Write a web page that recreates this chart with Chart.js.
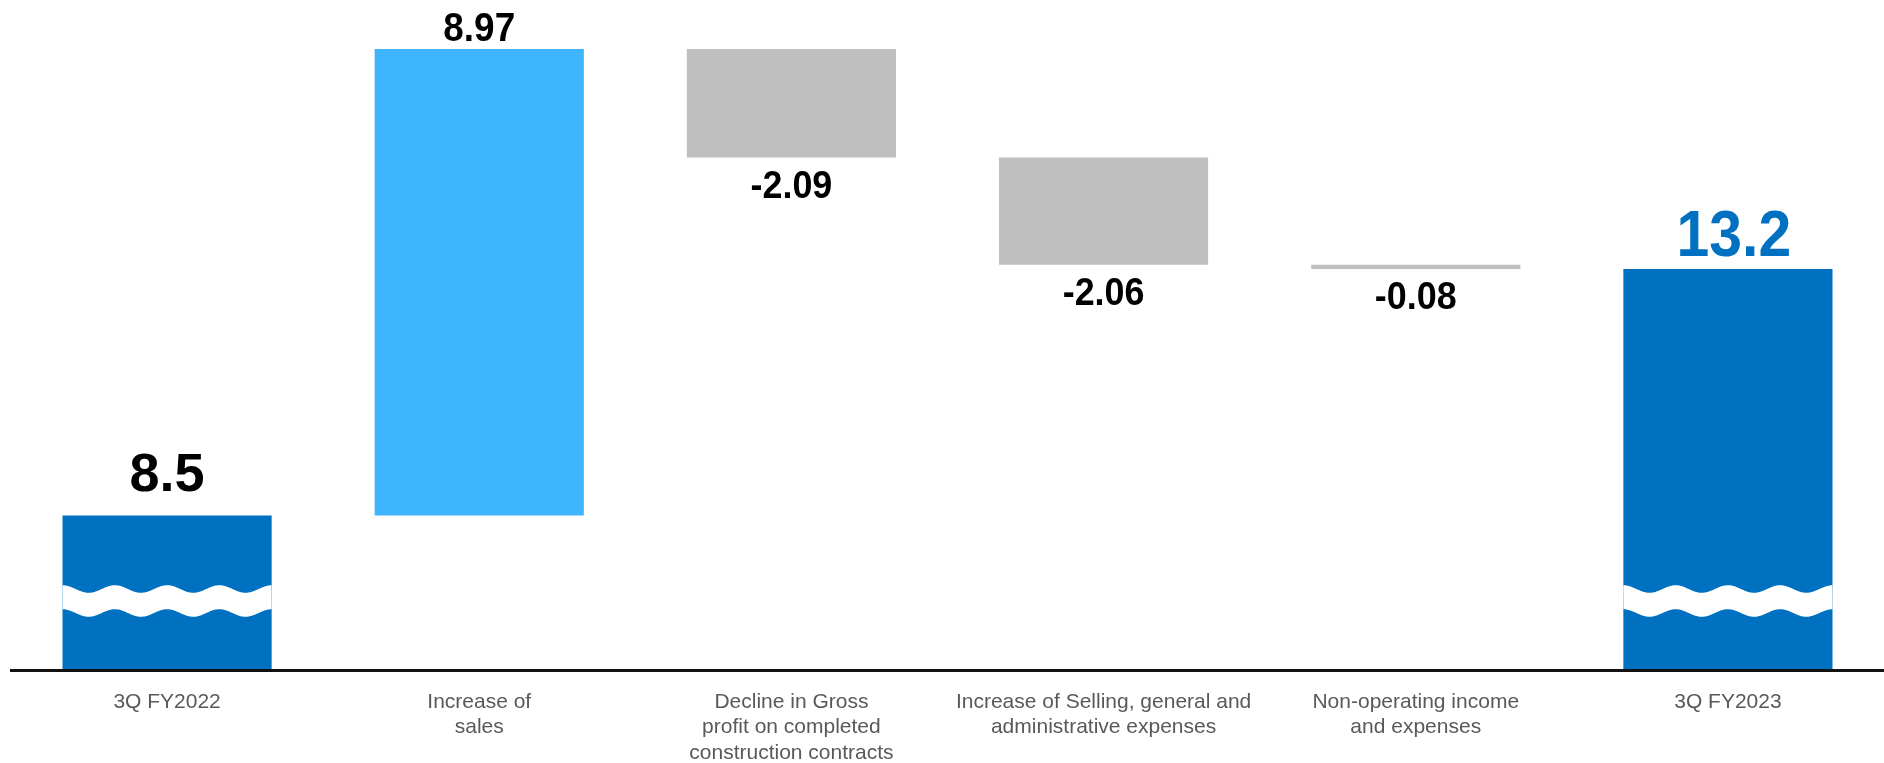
<!DOCTYPE html>
<html>
<head>
<meta charset="utf-8">
<script src="https://cdn.jsdelivr.net/npm/chart.js@4.4.0/dist/chart.umd.min.js"></script>
<style>
html,body{margin:0;padding:0;background:#fff;}
#wrap{width:1884px;height:763px;position:relative;}
</style>
</head>
<body>
<div id="wrap"><canvas id="c"></canvas></div>
<script>
// ---- data ----
const categories = [
  ["3Q FY2022"],
  ["Increase of", "sales"],
  ["Decline in Gross", "profit on completed", "construction contracts"],
  ["Increase of Selling, general and", "administrative expenses"],
  ["Non-operating income", "and expenses"],
  ["3Q FY2023"]
];
const startValue = 8.5;
const changeValues = [8.97, -2.09, -2.06, -0.08];
const valueLabels = ["8.5", "8.97", "-2.09", "-2.06", "-0.08", "13.2"];
const axisBase = 5.53;   // value at the (broken) axis line
const axisMax = 18.41;

// ---- build floating ranges ----
const ranges = [[axisBase, startValue]];
let running = startValue;
changeValues.forEach(v => { ranges.push([running, running + v]); running += v; });
ranges.push([axisBase, running]);
const signs = [1].concat(changeValues.map(v => Math.sign(v))).concat([1]);

// ---- styles ----
const barColors = ['#0070C0', '#3FB4FF', '#BFBFBF', '#BFBFBF', '#BFBFBF', '#0070C0'];
const labelStyle = [
  {size: 54, gap: 25, color: '#000000', sx: 1.0, dx: 0},
  {size: 41, gap: 8,  color: '#000000', sx: 0.9, dx: 0},
  {size: 39, gap: 12, color: '#000000', sx: 0.92, dx: 0},
  {size: 39, gap: 12, color: '#000000', sx: 0.92, dx: 0},
  {size: 39, gap: 12, color: '#000000', sx: 0.92, dx: 0},
  {size: 64, gap: 13, color: '#0070C0', sx: 0.92, dx: 6}
];
const brokenBars = [0, 5];
const breakOffsetPx = 69;

const labelPlugin = {
  id: 'valueLabels',
  afterDatasetsDraw(chart) {
    const ctx = chart.ctx;
    const meta = chart.getDatasetMeta(0);
    meta.data.forEach((el, i) => {
      const st = labelStyle[i];
      const top = Math.min(el.y, el.base);
      const bottom = Math.max(el.y, el.base);
      ctx.save();
      ctx.font = 'bold ' + st.size + 'px "Liberation Sans", Arial, sans-serif';
      ctx.fillStyle = st.color;
      ctx.textAlign = 'center';
      ctx.textBaseline = 'alphabetic';
      let baseline;
      if (signs[i] >= 0) baseline = top - st.gap;
      else baseline = bottom + st.gap + st.size * 0.716;
      ctx.translate(el.x + st.dx, baseline);
      ctx.scale(st.sx, 1);
      ctx.fillText(valueLabels[i], 0, 0);
      ctx.restore();
    });
  }
};

const wavePlugin = {
  id: 'waveBreak',
  afterDatasetsDraw(chart) {
    const ctx = chart.ctx;
    const meta = chart.getDatasetMeta(0);
    const yc = chart.scales.y.getPixelForValue(axisBase) - breakOffsetPx;
    const A = 3.8, half = 12;
    brokenBars.forEach(i => {
      const el = meta.data[i];
      const left = el.x - el.width / 2, right = el.x + el.width / 2;
      const period = el.width / 4;
      ctx.save();
      ctx.beginPath();
      for (let x = left; x <= right + 0.01; x += 1) {
        const y = yc - half - A * Math.cos(2 * Math.PI * (x - left) / period);
        if (x === left) ctx.moveTo(x, y); else ctx.lineTo(x, y);
      }
      for (let x = right; x >= left - 0.01; x -= 1) {
        const y = yc + half - A * Math.cos(2 * Math.PI * (x - left) / period);
        ctx.lineTo(x, y);
      }
      ctx.closePath();
      ctx.fillStyle = '#FFFFFF';
      ctx.fill();
      ctx.restore();
    });
  }
};

new Chart(document.getElementById('c'), {
  type: 'bar',
  data: {
    labels: categories,
    datasets: [{
      data: ranges,
      backgroundColor: barColors,
      borderWidth: 0,
      borderSkipped: false,
      barPercentage: 0.67,
      categoryPercentage: 1.0
    }]
  },
  options: {
    responsive: true,
    maintainAspectRatio: false,
    animation: false,
    layout: {padding: {left: 11, right: 0, top: 0, bottom: 0}},
    plugins: {legend: {display: false}, tooltip: {enabled: false}},
    scales: {
      x: {
        grid: {display: false, drawTicks: false},
        border: {display: true, color: '#111111', width: 3, z: 1},
        ticks: {
          color: '#595959',
          padding: 19,
          maxRotation: 0,
          autoSkip: false,
          font: {family: '"Liberation Sans", Arial, sans-serif', size: 21, lineHeight: 1.22}
        },
        afterFit(scale) { scale.height = 93; }
      },
      y: {
        display: false,
        min: axisBase,
        max: axisMax
      }
    }
  },
  plugins: [labelPlugin, wavePlugin]
});
</script>
</body>
</html>
